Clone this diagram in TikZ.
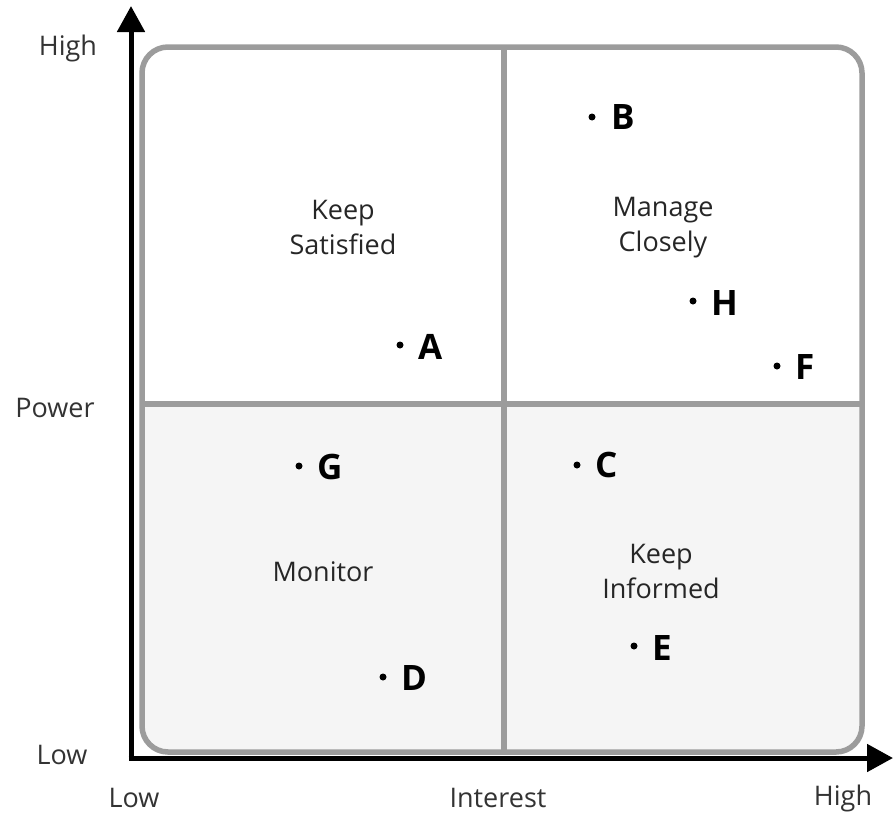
\documentclass[tikz,border=0pt]{standalone}
\usepackage{fontspec}
\setmainfont{Open Sans}
\usetikzlibrary{arrows.meta}
\definecolor{boxgray}{HTML}{9C9C9C}
\definecolor{lowfill}{HTML}{F5F5F5}
\tikzset{
  axisline/.style={line width=5pt, black, -{Triangle[length=26pt,width=27pt]}},
  boxline/.style={line width=5.5pt, boxgray},
  axlabel/.style={font=\fontsize{27}{32}\selectfont, text=black!80, inner sep=0pt},
  quadlabel/.style={font=\fontsize{27}{35}\selectfont, text=black!85, align=center, inner sep=0pt},
  dotmark/.style={circle, fill=black, inner sep=0pt, minimum size=7pt},
  ptlabel/.style={font=\fontsize{35}{40}\selectfont\bfseries, inner sep=0pt}
}
\begin{document}
\begin{tikzpicture}[x=1pt,y=-1pt]
\useasboundingbox (0,0) rectangle (893,814);
% box
\begin{scope}
  \clip[rounded corners=26pt] (142,47) rectangle (862,752);
  \fill[lowfill] (130,404) rectangle (870,760);
\end{scope}
\draw[boxline] (504,47) -- (504,752);
\draw[boxline] (142,404) -- (862,404);
\draw[boxline, rounded corners=26pt] (142,47) rectangle (862,752);
% axes
\coordinate (O) at (131,758);
\coordinate (ytip) at (131,6);
\coordinate (xtip) at (893,758);
\draw[axisline] ([yshift=2.5pt]O) -- (ytip);
\draw[axisline] ([xshift=-2.5pt]O) -- (xtip);
% axis labels
\node[axlabel] (yhigh) at (68,48) {High};
\node[axlabel] (power) at (55,408) {Power};
\node[axlabel] (ylow) at (62,755) {Low};
\node[axlabel] (xlow) at (134,798) {Low};
\node[axlabel] (interest) at (498,798) {Interest};
\node[axlabel] (xhigh) at (843,798) {High};
% quadrant labels
\node[quadlabel] (ks) at (343,227) {Keep\\Satisfied};
\node[quadlabel] (mc) at (663,228) {Manage\\Closely};
\node[quadlabel] (mon) at (323,572) {Monitor};
\node[quadlabel] (ki) at (661,571) {Keep\\Informed};
% points
\node[dotmark] (dB) at (592,117) {};
\node[ptlabel, anchor=west] (B) at (611,117) {B};
\node[dotmark] (dA) at (400,345) {};
\node[ptlabel, anchor=west] (A) at (418,347) {A};
\node[dotmark] (dH) at (693,301) {};
\node[ptlabel, anchor=west] (H) at (711,303) {H};
\node[dotmark] (dF) at (777,366) {};
\node[ptlabel, anchor=west] (F) at (795,367) {F};
\node[dotmark] (dG) at (299,466) {};
\node[ptlabel, anchor=west] (G) at (317,467) {G};
\node[dotmark] (dC) at (577,465) {};
\node[ptlabel, anchor=west] (C) at (595,465) {C};
\node[dotmark] (dE) at (634,646) {};
\node[ptlabel, anchor=west] (E) at (652,648) {E};
\node[dotmark] (dD) at (383,677) {};
\node[ptlabel, anchor=west] (D) at (401,678) {D};
\end{tikzpicture}
\end{document}
